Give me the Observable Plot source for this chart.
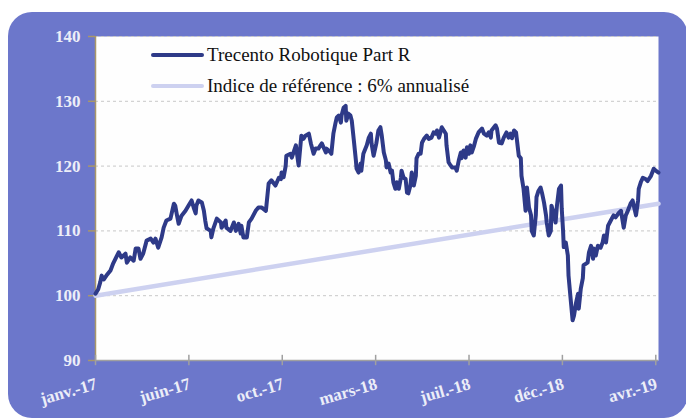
<!DOCTYPE html>
<html><head><meta charset="utf-8">
<script src="https://cdn.jsdelivr.net/npm/d3@7"></script>
<script src="https://cdn.jsdelivr.net/npm/@observablehq/plot@0.6"></script>
<style>
html,body{margin:0;padding:0;background:#fff;}
#wrap{position:relative;width:686px;height:419px;overflow:hidden;font-family:"Liberation Serif",serif;}
#bg{position:absolute;left:8px;top:12px;width:680px;height:406px;background:#6c77cb;border-radius:24px;}
#chart{position:absolute;left:0;top:0;}
.leg{position:absolute;left:151px;display:flex;align-items:center;font-size:19px;color:#111;white-space:nowrap;}
.leg .sw{display:inline-block;width:53px;height:4.5px;border-radius:2px;margin-right:3px;}
</style></head>
<body>
<div id="wrap">
  <div id="bg"></div>
  <div id="chart"></div>
  <div class="leg" id="leg1" style="top:44px"><span class="sw" style="background:#2e3a88"></span><span class="t"></span></div>
  <div class="leg" id="leg2" style="top:75px"><span class="sw" style="background:#cdd1f0"></span><span class="t"></span></div>
</div>
<script>
// Séries (jours depuis le début)
const serieNom = "Trecento Robotique Part R";
const indiceNom = "Indice de référence : 6% annualisé";

const jours = [0,4,7,9,12,16,22,26,34,38,44,46,51,56,59,63,66,70,75,81,85,88,92,97,100,104,110,115,117,119,122,126,132,137,141,144,147,148,151,156,159,161,163,169,170,173,178,184,185,191,192,198,203,206,210,213,214,217,222,225,229,235,239,244,250,254,258,264,269,272,273,276,279,280,286,288,294,295,298,302,305,308,313,316,320,323,327,330,332,338,339,345,346,349,352,354,357,360,361,364,367,368,371,374,376,379,382,383,386,389,390,393,398,401,404,405,408,412,415,418,420,423,426,427,430,433,435,437,440,442,445,448,449,452,455,457,459,462,464,467,470,471,474,477,479,482,486,489,493,496,499,501,504,506,508,511,514,515,518,521,523,528,530,533,536,537,540,543,545,548,550,552,555,558,562,567,570,574,577,580,581,587,589,592,596,599,603,606,609,611,614,617,618,621,624,625,628,631,633,636,639,640,643,646,647,650,653,655,658,661,662,665,668,669,672,675,677,680,683,684,686,687,690,693,694,697,700,702,705,708,709,712,715,716,722,724,727,730,731,734,737,741,744,746,749,752,756,760,763,768,771,775,778,781,785,788,793,796,797,800,803,807,810,815,819,822,826];
const valeurs = [100.3,101.0,102.1,103.1,102.5,103.1,103.9,105.0,106.7,105.9,106.5,105.1,105.9,105.4,107.3,107.3,105.7,106.5,108.5,108.8,108.2,108.8,107.4,109.0,110.5,111.6,111.9,114.2,113.9,112.7,111.1,112.3,113.1,114.0,114.7,113.6,112.7,113.9,114.7,114.4,113.1,111.6,110.4,110.0,109.0,110.4,111.9,111.3,110.5,111.6,110.5,110.0,111.3,110.0,111.1,109.6,110.8,109.0,109.0,111.3,111.9,113.1,113.6,113.6,113.1,117.3,117.8,117.0,118.2,118.0,119.0,118.3,120.0,121.6,121.9,121.3,123.2,122.4,120.1,124.7,124.2,124.7,125.0,123.5,121.9,122.7,122.7,123.2,123.5,122.1,122.7,122.1,121.9,125.0,126.6,127.5,127.8,126.7,127.8,129.0,129.3,127.0,128.1,127.8,127.0,124.0,120.9,119.6,119.0,120.4,119.3,121.9,123.2,124.4,125.0,123.5,121.6,123.5,125.5,126.0,124.7,122.1,120.9,119.8,120.4,119.0,119.3,117.5,116.5,117.5,116.5,118.2,119.3,118.2,118.0,115.9,115.8,117.0,119.0,117.0,118.5,121.2,121.9,121.9,123.6,124.2,124.7,124.2,124.4,125.2,125.0,125.5,124.4,125.2,126.0,125.5,125.0,123.2,120.6,120.1,119.8,119.8,119.3,120.9,122.1,121.2,122.4,121.3,122.9,121.9,123.2,122.1,123.0,124.2,125.2,125.8,125.0,124.7,125.2,124.4,125.5,126.3,125.8,123.6,123.5,124.4,125.2,124.4,125.0,124.3,125.5,125.2,124.3,121.6,121.2,118.5,116.5,113.1,116.7,113.6,112.4,110.0,109.3,112.4,115.2,116.2,116.7,115.9,114.4,112.4,111.3,109.3,110.0,113.9,112.8,111.3,113.9,116.5,117.0,113.5,110.0,107.5,108.2,106.2,103.1,99.6,96.2,96.9,98.9,100.3,98.0,101.1,102.7,104.7,105.1,106.7,107.7,105.7,107.3,106.2,107.7,107.4,108.2,109.3,108.2,110.8,111.6,112.4,112.1,112.8,113.1,110.5,112.4,113.1,114.2,114.7,112.4,114.7,116.5,117.5,118.2,118.0,117.7,118.5,119.6,119.3,119.0];

const indiceJours = [0, 675, 826];
const indiceValeurs = [100.0, 111.6, 114.2];

const tickDates = ["2017-01-20","2017-06-06","2017-10-21","2018-03-07","2018-07-22","2018-12-06","2019-04-22"];
const tickLabels = ["janv.-17","juin-17","oct.-17","mars-18","juil.-18","déc.-18","avr.-19"];
const yTicks = [90,100,110,120,130,140];

const debut = new Date(Date.UTC(2017,0,20));
const toDate = j => d3.utcDay.offset(debut, j);
const serie = jours.map((j,i)=>({date: toDate(j), v: valeurs[i]}));
const indice = indiceJours.map((j,i)=>({date: toDate(j), v: indiceValeurs[i]}));
const ticks = tickDates.map((s,i)=>({date: new Date(s+"T00:00Z"), label: tickLabels[i]}));

const plot = Plot.plot({
  width: 686, height: 419,
  marginLeft: 95, marginRight: 28, marginTop: 36, marginBottom: 59,
  style: {background: "transparent", fontFamily: "Liberation Serif, serif", overflow: "visible"},
  x: {type: "utc", domain: [debut, toDate(826)], axis: null},
  y: {domain: [90, 140]},
  marks: [
    Plot.frame({fill: "#fefefe", stroke: null}),
    Plot.ruleY(yTicks.filter(t => t > 90), {stroke: "#c8c8c8", strokeDasharray: "3,3", strokeWidth: 1}),
    Plot.axisY(yTicks, {anchor: "left", tickSize: 7, tickPadding: 8, stroke: "#a8976a", strokeWidth: 1.5, fill: "#eceef8", fontSize: 17, fontWeight: "bold", label: null}),
    Plot.ruleX([debut], {stroke: "#a8976a", strokeWidth: 1.5}),
    Plot.ruleY([90], {stroke: "#a0a0a0", strokeWidth: 1.5}),
    Plot.ruleX(ticks, {x: "date", y1: 89.2, y2: 90.8, stroke: "#a0a0a0", strokeWidth: 1.5}),
    Plot.text(ticks, {x: "date", y: 90, text: "label", rotate: -16, textAnchor: "end", dy: 23, dx: 1, fill: "#eceef8", fontSize: 17, fontWeight: "bold"}),
    Plot.line(indice, {x: "date", y: "v", stroke: "#cdd1f0", strokeWidth: 4.5}),
    Plot.line(serie, {x: "date", y: "v", stroke: "#2e3a88", strokeWidth: 4, strokeLinejoin: "round"})
  ]
});
document.getElementById("chart").appendChild(plot);
document.querySelector("#leg1 .t").textContent = serieNom;
document.querySelector("#leg2 .t").textContent = indiceNom;
</script>
</body></html>
